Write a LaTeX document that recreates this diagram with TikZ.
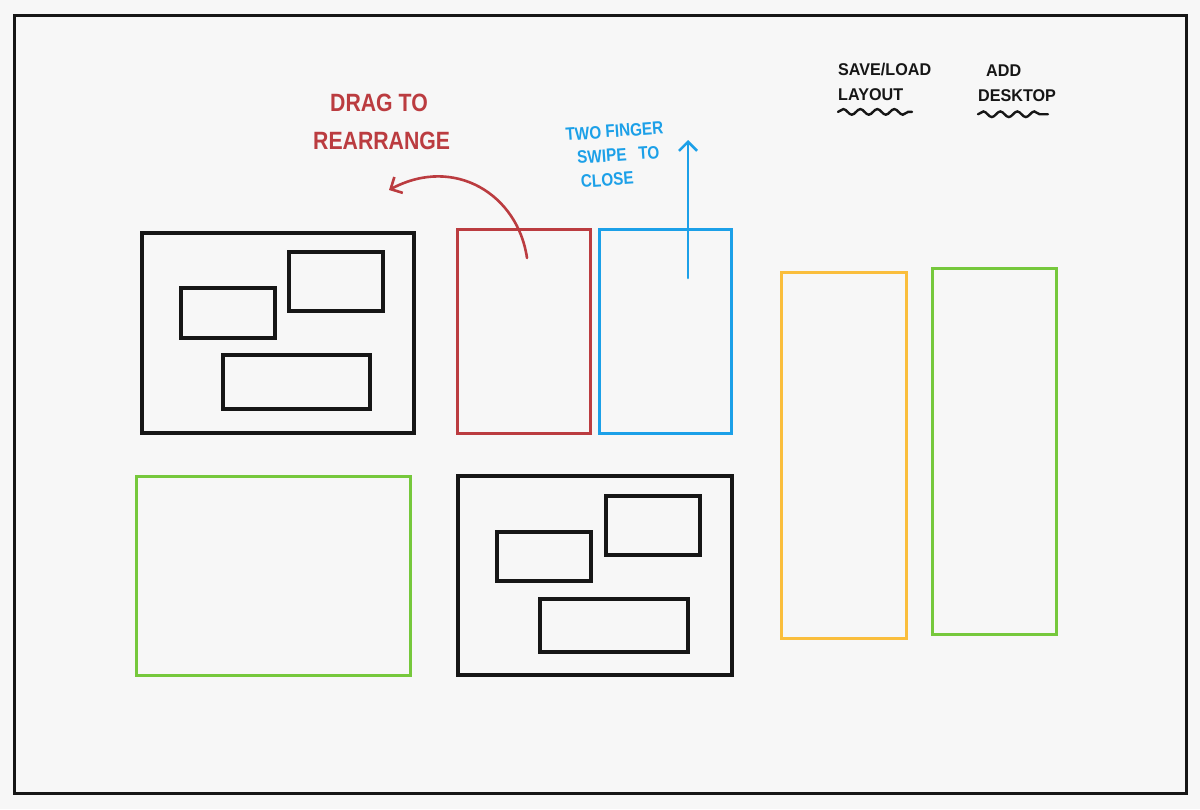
\documentclass[tikz,border=0pt]{standalone}
\usepackage{fontspec}
\usepackage{tikz}
\usetikzlibrary{arrows.meta,positioning,decorations.pathmorphing}
\newfontfamily\hand[FakeStretch=0.85]{Liberation Sans}
\newfontfamily\handw[FakeStretch=0.95]{Liberation Sans}
\definecolor{cPaper} {RGB}{247,247,247}
\definecolor{cInk}   {RGB}{22,22,22}
\definecolor{cDrag}  {RGB}{187,60,64}
\definecolor{cSwipe} {RGB}{28,160,232}
\definecolor{cYell}  {RGB}{250,190,60}
\definecolor{cGreen} {RGB}{118,200,60}
\tikzset{
  win/.style={draw=cInk,line width=3.8pt,anchor=north west,inner sep=0pt},
  sub/.style={win,line width=3.5pt},
  winR/.style={win,draw=cDrag,line width=3.2pt},
  winB/.style={win,draw=cSwipe,line width=3.2pt},
  winY/.style={win,draw=cYell,line width=3.2pt},
  winG/.style={win,draw=cGreen,line width=3.4pt},
  note/.style={anchor=north west,inner sep=0pt,align=left},
  barb/.style={line width=2.6pt,line cap=round,-{Straight Barb[length=9pt,width=18pt]}},
  squig/.style={line width=2.4pt,cInk,line cap=round,
                decorate,decoration={snake,amplitude=2.8pt,segment length=17pt}},
}
\begin{document}
\begin{tikzpicture}[x=1pt,y=-1pt]
  \fill[cPaper] (0,0) rectangle (1200,809);
  \useasboundingbox (0,0) rectangle (1200,809);
  \draw[cInk,line width=3pt] (14,15) rectangle (1186,793);
  % window with three panes
  \node[win,minimum width=272pt,minimum height=200pt] (winA) at (140,231){};
  \node[sub,minimum width=94pt,minimum height=50pt]   (a1) at (179,286){};
  \node[sub,minimum width=94pt,minimum height=59pt]   (a2) at (287,250){};
  \node[sub,minimum width=147pt,minimum height=54pt]  (a3) at (221,353){};
  % the two narrow windows with gestures
  \node[winR,minimum width=133pt,minimum height=204pt] (drag)  at (456,228){};
  \node[winB,minimum width=132pt,minimum height=204pt] (swipe) at (598,228){};
  % tall columns
  \node[winY,minimum width=125pt,minimum height=366pt] (colY) at (780,271){};
  \node[winG,minimum width=124pt,minimum height=366pt] (colG) at (931,267){};
  % bottom row
  \node[winG,minimum width=274pt,minimum height=199pt] (wide) at (135,475){};
  \node[win,minimum width=274pt,minimum height=199pt]  (winB) at (456,474){};
  \node[sub,minimum width=94pt,minimum height=49pt]   (b1) at (495,530){};
  \node[sub,minimum width=94pt,minimum height=59pt]   (b2) at (604,494){};
  \node[sub,minimum width=148pt,minimum height=53pt]  (b3) at (538,597){};
  % gesture notes
  \node[note,text=cDrag,font=\hand\bfseries\fontsize{25}{38}\selectfont] (dragTxt) at (313,94)
    {\hspace*{17pt}DRAG TO\\REARRANGE};
  \node[note,text=cSwipe,rotate=4,font=\hand\bfseries\fontsize{18}{24}\selectfont] (swipeTxt) at (565,128)
    {TWO FINGER\\\hspace*{10pt}SWIPE\hspace{12pt}TO\\\hspace*{12pt}CLOSE};
  \coordinate (dragFrom) at (527,258);
  \coordinate (dragTo)   at (389,190);
  \draw[barb,cDrag] (dragFrom) .. controls (518,195) and (455,155) .. (dragTo);
  \coordinate (swipeFrom) at (688,278);
  \coordinate (swipeTo)   at (688,140);
  \draw[barb,cSwipe] (swipeFrom) -- (swipeTo);
  % menu items
  \node[note,text=cInk,font=\handw\bfseries\fontsize{17}{25}\selectfont] (saveLoad) at (838,63)
    {SAVE/LOAD\\LAYOUT};
  \node[note,text=cInk,font=\handw\bfseries\fontsize{17}{25}\selectfont] (addDesk) at (978,65)
    {\hspace*{8pt}ADD\\DESKTOP};
  \draw[squig] ([yshift=-11pt]saveLoad.south west) -- ++(74,0);
  \draw[squig] ([yshift=-12pt]addDesk.south west) -- ++(70,0);
\end{tikzpicture}
\end{document}
